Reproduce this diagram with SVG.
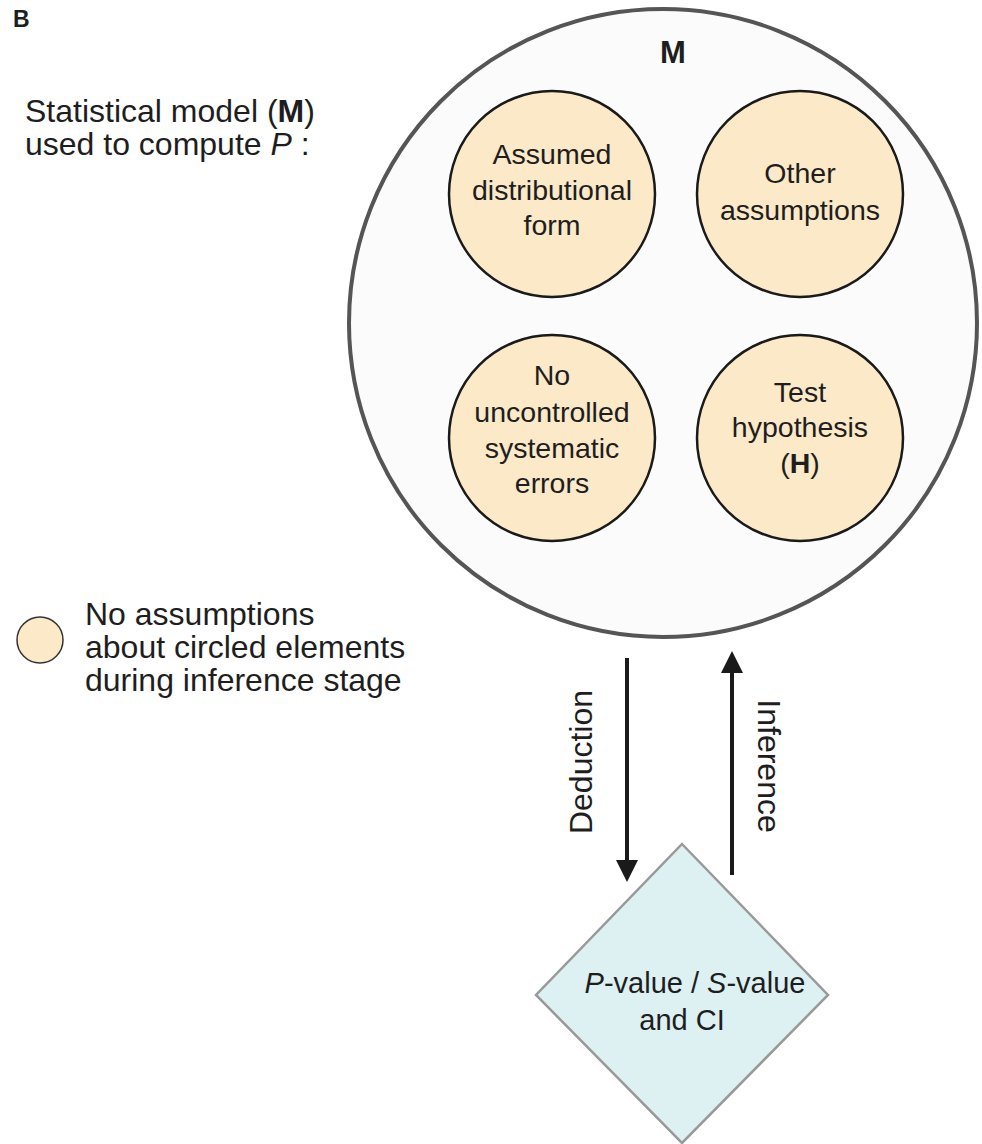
<svg xmlns="http://www.w3.org/2000/svg" width="982" height="1144" viewBox="0 0 982 1144">
<defs>
<style>
text{font-family:"Liberation Sans",Arial,Helvetica,sans-serif;fill:#1e1e1e;}
.lbl{font-size:32px;}
.ctext{font-size:28.5px;text-anchor:middle;}
.el{fill:#fce9c8;stroke:#1a1a1a;stroke-width:2.5;}
.arr{stroke:#1a1a1a;stroke-width:4;fill:none;marker-end:url(#ah);}
</style>
<marker id="ah" viewBox="0 0 22 22" markerWidth="22" markerHeight="22" refX="2" refY="11" orient="auto" markerUnits="userSpaceOnUse">
<path d="M0,0 L22,11 L0,22 z" fill="#1a1a1a"/>
</marker>
</defs>
<rect width="982" height="1144" fill="#ffffff"/>
<text x="13" y="27" font-size="23" font-weight="bold">B</text>
<g id="title">
<text class="lbl" x="25" y="122">Statistical model (<tspan font-weight="bold">M</tspan>)</text>
<text class="lbl" x="25" y="155">used to compute <tspan font-style="italic">P</tspan> :</text>
</g>
<g id="model">
<circle cx="663" cy="323" r="314" fill="#fbfbfb" stroke="#555555" stroke-width="4"/>
<text x="673" y="63" font-size="31" font-weight="bold" text-anchor="middle">M</text>
</g>
<g id="distributional">
<circle class="el" cx="552" cy="194" r="103"/>
<text class="ctext" x="552" y="164">Assumed</text>
<text class="ctext" x="552" y="200">distributional</text>
<text class="ctext" x="552" y="235">form</text>
</g>
<g id="other">
<circle class="el" cx="800" cy="194" r="103"/>
<text class="ctext" x="800" y="183">Other</text>
<text class="ctext" x="800" y="220">assumptions</text>
</g>
<g id="systematic">
<circle class="el" cx="552" cy="438" r="103"/>
<text class="ctext" x="552" y="385">No</text>
<text class="ctext" x="552" y="422">uncontrolled</text>
<text class="ctext" x="552" y="458">systematic</text>
<text class="ctext" x="552" y="493">errors</text>
</g>
<g id="hypothesis">
<circle class="el" cx="800" cy="438" r="103"/>
<text class="ctext" x="800" y="402">Test</text>
<text class="ctext" x="800" y="437">hypothesis</text>
<text class="ctext" x="800" y="473">(<tspan font-weight="bold">H</tspan>)</text>
</g>
<g id="legend">
<circle cx="40" cy="640" r="23" fill="#fce9c8" stroke="#333333" stroke-width="1.5"/>
<text class="lbl" x="85" y="625">No assumptions</text>
<text class="lbl" x="85" y="658">about circled elements</text>
<text class="lbl" x="85" y="691">during inference stage</text>
</g>
<g id="result">
<polygon points="682,844 828,995 682,1143 536,995" fill="#ddf0f2" stroke="#999999" stroke-width="2.5"/>
<text x="695" y="993" font-size="29" text-anchor="middle"><tspan font-style="italic">P</tspan>-value / <tspan font-style="italic">S</tspan>-value</text>
<text x="682" y="1030" font-size="29" text-anchor="middle">and CI</text>
</g>
<g id="connectors">
<line class="arr" x1="627" y1="658" x2="627" y2="862"/>
<line class="arr" x1="732" y1="875" x2="732" y2="671"/>
<text class="lbl" transform="translate(592,762) rotate(-90)" text-anchor="middle">Deduction</text>
<text class="lbl" transform="translate(758,766) rotate(90)" text-anchor="middle">Inference</text>
</g>
</svg>
